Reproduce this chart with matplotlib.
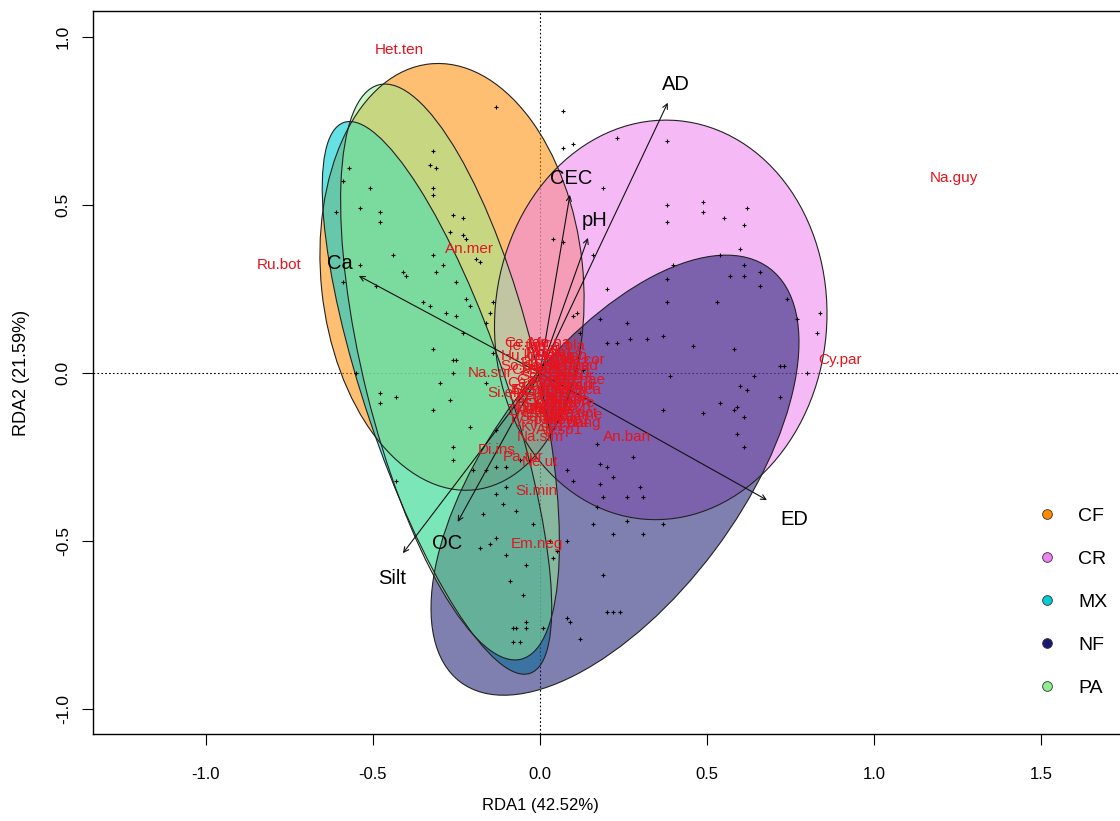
import numpy as np
import matplotlib
matplotlib.use("Agg")
import matplotlib.pyplot as plt
from matplotlib.patches import Ellipse
from matplotlib.lines import Line2D

plt.rcParams['font.family'] = ['Liberation Sans', 'DejaVu Sans']
plt.rcParams['axes.unicode_minus'] = False

# ---- site scores (RDA1, RDA2) ----
sites = np.array([
    (-0.13, 0.79), (0.07, 0.78), (0.07, 0.67), (0.10, 0.68), (-0.32, 0.66), (-0.33, 0.62),
    (-0.31, 0.61), (-0.32, 0.55), (-0.32, 0.53), (-0.57, 0.61), (-0.59, 0.57), (-0.51, 0.55),
    (-0.61, 0.48), (-0.54, 0.49), (-0.48, 0.48), (-0.48, 0.45), (-0.26, 0.47), (-0.23, 0.46),
    (-0.27, 0.42), (-0.23, 0.41), (-0.22, 0.40), (-0.32, 0.35), (-0.44, 0.35), (-0.19, 0.34),
    (-0.18, 0.33), (-0.29, 0.32), (-0.31, 0.30), (-0.41, 0.30), (-0.40, 0.29), (-0.54, 0.32),
    (-0.59, 0.27), (-0.49, 0.26), (-0.25, 0.27), (-0.22, 0.22), (-0.21, 0.20), (-0.14, 0.21),
    (-0.15, 0.18), (-0.16, 0.15), (-0.35, 0.21), (-0.33, 0.20), (-0.28, 0.18), (-0.25, 0.17),
    (-0.23, 0.12), (0.04, 0.40), (0.07, 0.39), (-0.32, 0.07), (-0.26, 0.04), (-0.25, 0.04),
    (-0.14, 0.06), (-0.55, 0.00), (-0.26, 0.00), (-0.30, -0.03), (-0.16, -0.03), (-0.48, -0.06),
    (-0.43, -0.07), (-0.48, -0.09), (-0.27, -0.08), (-0.32, -0.11), (-0.21, -0.16), (-0.26, -0.22),
    (-0.26, -0.26), (-0.13, -0.17),
    (0.23, 0.70), (0.38, 0.69), (0.19, 0.55), (0.38, 0.50), (0.49, 0.51), (0.49, 0.48),
    (0.55, 0.46), (0.62, 0.49), (0.38, 0.45), (0.61, 0.44), (0.16, 0.35), (0.60, 0.37),
    (0.54, 0.35), (0.61, 0.32), (0.66, 0.30), (0.57, 0.29), (0.61, 0.29), (0.66, 0.26),
    (0.40, 0.32), (0.38, 0.28), (0.20, 0.25), (0.11, 0.18), (0.74, 0.22), (0.53, 0.21),
    (0.38, 0.21), (0.77, 0.16), (0.84, 0.18), (0.18, 0.16), (0.26, 0.15), (0.83, 0.12),
    (0.23, 0.09), (0.27, 0.10), (0.32, 0.10), (0.37, 0.11), (0.46, 0.08), (0.58, 0.07),
    (0.12, 0.12), (0.72, 0.02), (0.73, 0.02), (0.64, -0.01), (0.80, 0.00), (0.39, -0.01),
    (0.60, -0.04), (0.62, -0.05), (0.72, -0.07), (0.54, -0.09), (0.59, -0.10), (0.58, -0.11),
    (0.49, -0.12), (0.61, -0.13), (0.37, -0.11), (0.59, -0.18), (0.61, -0.22), (0.13, 0.01),
    (0.10, 0.17), (0.20, 0.09),
    (0.08, -0.29), (0.20, -0.28), (0.22, -0.31), (0.18, -0.33), (0.10, -0.32), (0.19, -0.37),
    (0.30, -0.34), (0.26, -0.37), (0.31, -0.37), (0.17, -0.40), (0.16, -0.45), (0.22, -0.48),
    (0.26, -0.44), (0.31, -0.48), (0.37, -0.45), (0.17, -0.21), (-0.20, -0.29), (-0.16, -0.29),
    (-0.13, -0.28), (-0.10, -0.28), (-0.06, -0.26), (-0.03, -0.26), (-0.10, -0.34), (-0.13, -0.36),
    (-0.17, -0.42), (-0.11, -0.39), (-0.07, -0.41), (-0.02, -0.45), (-0.13, -0.49), (-0.15, -0.51),
    (-0.18, -0.52), (-0.10, -0.54), (-0.04, -0.57), (0.03, -0.50), (0.08, -0.50), (0.05, -0.53),
    (0.04, -0.55), (-0.09, -0.62), (-0.05, -0.66), (0.19, -0.60), (0.20, -0.71), (0.22, -0.71),
    (0.24, -0.71), (0.08, -0.73), (0.09, -0.74), (0.12, -0.79), (-0.08, -0.76), (-0.07, -0.76),
    (-0.04, -0.74), (-0.04, -0.76), (0.01, -0.76), (-0.08, -0.80), (-0.06, -0.80), (-0.43, -0.32),
    (0.28, -0.25), (0.18, -0.27),
])

# ---- group ellipses (ordiellipse) ----
groups = ['CF', 'CR', 'MX', 'NF', 'PA']
group_colors = ['darkorange', 'violet', 'darkturquoise', 'midnightblue', 'lightgreen']
group_alpha = [0.55, 0.55, 0.6, 0.55, 0.5]
ell_cx = [-0.263, 0.362, -0.308, 0.225, -0.269]
ell_cy = [0.286, 0.158, -0.074, -0.304, 0.003]
ell_w = [0.784, 0.994, 1.731, 1.540, 1.761]
ell_h = [1.274, 1.190, 0.424, 0.746, 0.513]
ell_ang = [6, -5, -71.2, 53, -76]

# ---- environmental vectors ----
env_names = ['AD', 'CEC', 'pH', 'Ca', 'Silt', 'OC', 'ED']
env_x = [0.383, 0.090, 0.144, -0.542, -0.410, -0.246, 0.680]
env_y = [0.804, 0.530, 0.402, 0.289, -0.536, -0.443, -0.378]
env_lab_x = [0.407, 0.093, 0.165, -0.599, -0.443, -0.278, 0.763]
env_lab_y = [0.857, 0.580, 0.455, 0.327, -0.610, -0.506, -0.437]

# ---- species scores ----
species = ['Het.ten', 'Na.guy', 'Ru.bot', 'An.mer', 'Cy.par', 'Ce.tan', 'Te.tan', 'Hu.kli',
           'Na.sur', 'Na.cor', 'Si.ela', 'An.ban', 'Na.sim', 'Ep.bang', 'Di.ins', 'Pa.tur',
           'Ne.ut', 'Si.min', 'Em.neg',
           'Ph.sp1', 'Ph.sp2', 'Ph.sp3', 'So.sp1', 'So.sp2', 'Cr.sp1', 'Cr.sp2', 'Ca.sp1',
           'Py.den', 'Wa.aur', 'Od.hae', 'Ec.rui', 'Gn.sp1', 'Hy.sp1', 'Br.ri', 'Ps.gra',
           'At.sp1', 'Ac.ipa', 'Se.ame', 'Ne.ech', 'Tr.sp1', 'Ty.sp1', 'Ho.sp1', 'La.ri',
           'Me.na', 'Ca.bla', 'Ky.sp1', 'Ap.sp1', 'Mo.sp1', 'St.sp1',
           'Ph.fal', 'Ph.ori', 'Ph.lon', 'Ph.rad', 'So.gem', 'So.sae', 'Cr.neo', 'Cr.cur',
           'Ca.ato', 'Ca.cra', 'Py.ten', 'Wa.sca', 'Od.che', 'Ec.tub', 'Gn.ann', 'Hy.ore',
           'Br.pat', 'Ps.ele', 'At.sex', 'Ac.oct', 'Se.sp1', 'Ne.bin', 'Tr.pat', 'Ty.uni',
           'Ho.cap', 'La.nig', 'Me.ame', 'Ky.mer', 'Ap.ihe', 'Mo.flo']
sp_x = [-0.42, 1.24, -0.78, -0.21, 0.90, -0.04, -0.04, -0.06,
        -0.15, 0.13, -0.10, 0.26, 0.00, 0.10, -0.13, -0.05,
        0.00, -0.01, -0.01,
        0.03, 0.06, 0.08, 0.02, 0.05, 0.09, -0.02, 0.00,
        0.04, 0.10, 0.12, -0.03, 0.02, 0.07, 0.12, -0.01,
        0.04, 0.09, 0.11, 0.00, 0.05, -0.03, 0.08, 0.11,
        0.03, 0.07, 0.01, 0.06, 0.02, 0.05,
        0.00, 0.04, 0.08, 0.11, -0.04, 0.01, 0.06, 0.10,
        -0.03, 0.03, 0.07, 0.11, -0.02, 0.02, 0.06, 0.10,
        -0.01, 0.03, 0.07, 0.11, 0.01, 0.05, 0.09, -0.04,
        0.04, 0.08, 0.00, 0.05, 0.09, 0.02]
sp_y = [0.96, 0.58, 0.32, 0.37, 0.04, 0.09, 0.08, 0.05,
        0.00, 0.04, -0.06, -0.19, -0.19, -0.15, -0.23, -0.25,
        -0.265, -0.35, -0.51,
        0.06, 0.05, 0.03, 0.02, 0.00, 0.00, 0.01, -0.02,
        -0.03, -0.04, -0.02, -0.05, -0.06, -0.07, -0.036, -0.09,
        -0.10, -0.08, -0.125, -0.12, -0.13, -0.14, -0.14, -0.10,
        0.09, 0.08, -0.16, -0.17, -0.11, -0.05,
        0.03, 0.04, 0.05, 0.02, 0.02, -0.01, -0.01, -0.01,
        -0.03, -0.04, -0.04, -0.05, -0.07, -0.08, -0.08, -0.09,
        -0.10, -0.11, -0.11, -0.12, -0.13, -0.14, -0.15, -0.11,
        0.01, -0.06, -0.05, -0.09, 0.02, 0.06]

fig = plt.figure(figsize=(11.2, 8.21), dpi=100)
fig.patch.set_facecolor('white')
ax = fig.add_axes([93/1120, 87/821, 1048/1120, 723/821])
ax.set_xlim(-1.338, 1.80)
ax.set_ylim(-1.074, 1.077)

ax.axhline(0, color='black', lw=0.8, ls=(0, (1.5, 2)), zorder=1)
ax.axvline(0, color='black', lw=0.8, ls=(0, (1.5, 2)), zorder=1)

for i, g in enumerate(groups):
    ax.add_patch(Ellipse((ell_cx[i], ell_cy[i]), ell_w[i], ell_h[i], angle=ell_ang[i],
                         facecolor=group_colors[i], alpha=group_alpha[i],
                         edgecolor='none', zorder=2))
    ax.add_patch(Ellipse((ell_cx[i], ell_cy[i]), ell_w[i], ell_h[i], angle=ell_ang[i],
                         facecolor='none', edgecolor='#222222', lw=0.8, zorder=2.5))

ax.plot(sites[:, 0], sites[:, 1], '+', color='black', ms=3.5, mew=0.8, zorder=4)

for i, n in enumerate(env_names):
    ax.annotate('', xy=(env_x[i], env_y[i]), xytext=(0, 0),
                arrowprops=dict(arrowstyle='->', color='#111111', lw=0.8,
                                mutation_scale=9, shrinkA=0, shrinkB=0), zorder=5)
    ax.text(env_lab_x[i], env_lab_y[i], n, fontsize=14.5, ha='center', va='center',
            color='black', zorder=6)

for n, x, y in zip(species, sp_x, sp_y):
    ax.text(x, y, n, fontsize=11, color='#E5141E', ha='center', va='center', zorder=6)

ax.set_xticks([-1.0, -0.5, 0.0, 0.5, 1.0, 1.5])
ax.set_xticklabels(['-1.0', '-0.5', '0.0', '0.5', '1.0', '1.5'])
ax.set_yticks([-1.0, -0.5, 0.0, 0.5, 1.0])
ax.set_yticklabels(['-1.0', '-0.5', '0.0', '0.5', '1.0'], rotation=90, va='center')
ax.tick_params(axis='x', length=8, width=0.8, pad=16, labelsize=12)
ax.tick_params(axis='y', length=8, width=0.8, pad=8, labelsize=12.5)
for s in ax.spines.values():
    s.set_linewidth(1.0)

ax.set_xlabel('RDA1 (42.52%)', fontsize=12)
ax.xaxis.set_label_coords((540 - 93) / 1048, -(798 - 734) / 723)
ax.set_ylabel('RDA2 (21.59%)', fontsize=13)
ax.yaxis.set_label_coords(-(93 - 30) / 1048, 0.5)

handles = [Line2D([], [], ls='none', marker='o', ms=7, mfc=c, mec='#333333', mew=0.6)
           for c in group_colors]
ax.legend(handles, groups, loc='center left', bbox_to_anchor=(1020/1120, 1 - 602/821),
          bbox_transform=fig.transFigure, frameon=False, fontsize=14,
          labelspacing=1.3, handletextpad=1.1, handlelength=1.0)

fig.savefig('out.png', dpi=100, facecolor='white')
